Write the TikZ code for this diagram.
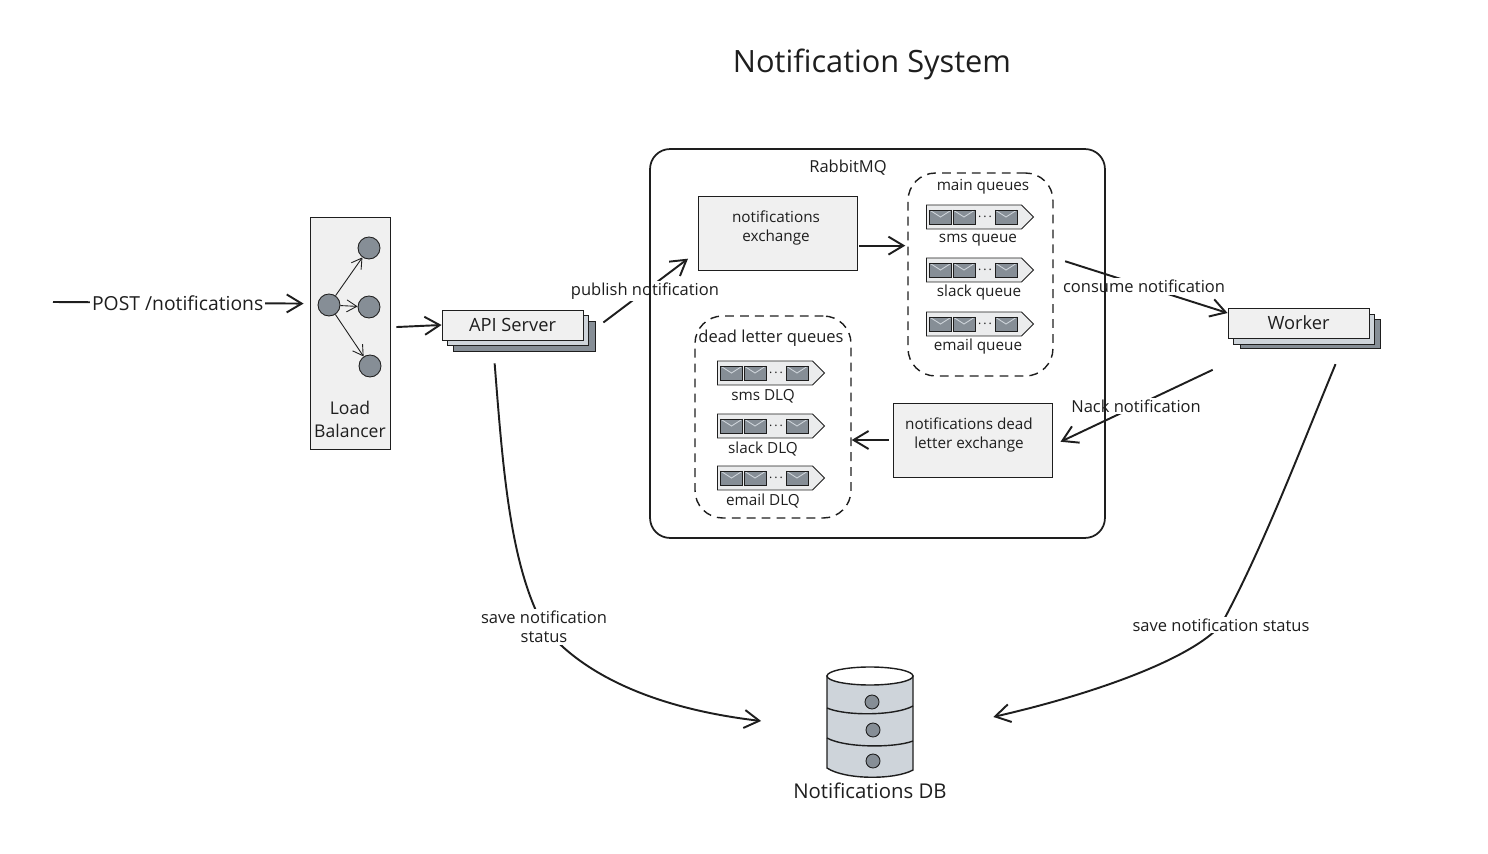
\documentclass[tikz,border=0pt]{standalone}
\usepackage{fontspec}
\setmainfont{Open Sans}
\usetikzlibrary{arrows.meta,shapes.symbols}
\definecolor{ink}{HTML}{1E1E1E}
\definecolor{pale}{HTML}{F0F0F0}
\definecolor{mist}{HTML}{CED4DA}
\definecolor{slate}{HTML}{868E96}

\begin{document}
\begin{tikzpicture}[x=0.02cm,y=-0.02cm,>={Straight Barb[length=3mm,width=3.6mm]},
 lbl/.style={font=\fontsize{9.4}{11}\selectfont,text=ink,align=center,inner sep=1pt},
 small/.style={lbl,font=\fontsize{8.7}{11}\selectfont},
 big/.style={font=\fontsize{10.4}{13}\selectfont,text=ink,align=center,inner sep=1pt},
 box/.style={rectangle,draw=ink,line width=0.5pt,fill=pale,inner sep=0pt},
 dashbox/.style={rectangle,draw=ink,thick,dash pattern=on 5pt off 3.5pt,rounded corners=0.55cm,inner sep=0pt},
 dot/.style={circle,draw=ink,line width=0.5pt,fill=slate,inner sep=0pt,minimum size=0.44cm},
 conn/.style={->,draw=ink,line width=1.1pt},
 thinconn/.style={->,>={Straight Barb[length=2mm,width=2.4mm]},draw=ink,line width=0.5pt},
 queue/.style={signal,signal to=east,draw=ink,line width=0.5pt,fill=pale!85!mist,inner sep=0pt,minimum width=2.14cm,minimum height=0.48cm},
 mail/.style={rectangle,draw=ink,line width=0.4pt,fill=slate,inner sep=0pt,minimum width=0.44cm,minimum height=0.28cm,
  path picture={\draw[mist,line width=0.5pt] (path picture bounding box.north west) -- (path picture bounding box.center) -- (path picture bounding box.north east);}}]
 \useasboundingbox (0,0) rectangle (1488,854);

 \node[font=\fontsize{17.5}{20}\selectfont,text=ink] (title) at (872,64) {Notification System};

 % load balancer
 \node[box,minimum width=1.6cm,minimum height=4.64cm] (lb) at (350,333) {};
 \node[dot] (lbin) at (329,305) {};
 \node[dot] (lbtop) at (369,248) {};
 \node[dot] (lbmid) at (369,307) {};
 \node[dot] (lbbot) at (370,366) {};
 \node[big,font=\fontsize{10}{13}\selectfont] (lbtext) at (350,419) {Load\\Balancer};
 \path (lbin) edge[thinconn] (lbtop)
  edge[thinconn] (lbmid)
  edge[thinconn] (lbbot);

 % stacked servers
 \node[box,fill=slate,minimum width=2.84cm,minimum height=0.6cm] (apiback) at (524,336) {};
 \node[box,fill=mist,minimum width=2.82cm,minimum height=0.6cm] (apimid) at (518,330) {};
 \node[box,minimum width=2.82cm,minimum height=0.6cm,big] (api) at (512.5,325) {API Server};
 \node[box,fill=slate,minimum width=2.8cm,minimum height=0.58cm] (wkback) at (1310,333.5) {};
 \node[box,fill=mist,minimum width=2.82cm,minimum height=0.6cm] (wkmid) at (1304,329) {};
 \node[box,minimum width=2.82cm,minimum height=0.6cm,big] (wk) at (1298.5,323) {Worker};

 % exchanges
 \node[box,minimum width=3.18cm,minimum height=1.48cm] (exch) at (777.5,233) {};
 \node[small] (exchtext) at (776,228) {notifications\\exchange};
 \node[box,minimum width=3.18cm,minimum height=1.48cm] (dlx) at (972.5,440) {};
 \node[small] (dlxtext) at (969,435) {notifications dead\\letter exchange};

 % queue groups
 \node[dashbox,minimum width=2.9cm,minimum height=4.06cm] (mainq) at (980.5,274.5) {};
 \node[small] (maintext) at (983,187) {main queues};
 \node[dashbox,minimum width=3.12cm,minimum height=4.04cm] (deadq) at (773,417) {};
 \node[lbl] (deadtext) at (771,338) {dead letter queues};
 \foreach \qname/\qx/\qy/\tx/\qtext in {sms/979.5/217/978/sms queue,slack/979.5/270/979/slack queue,email/979.5/324/978/email queue,
   smsd/770.5/373/763/sms DLQ,slackd/770.5/426/763/slack DLQ,emaild/770.5/478/763/email DLQ}{
  \node[queue] (\qname) at (\qx-5.5,\qy) {};
  \node[mail] (\qname a) at (\qx-39,\qy) {};
  \node[mail] (\qname b) at (\qx-15.5,\qy) {};
  \node[lbl,font=\fontsize{7}{8}\selectfont] (\qname dots) at (\qx+5.5,\qy) {.\,.\,.};
  \node[mail] (\qname c) at (\qx+26.5,\qy) {};
  \node[small] (\qname text) at (\tx,\qy+23) {\qtext};
 }

 % database
 \node[rectangle,inner sep=0pt,minimum width=1.72cm,minimum height=2.2cm] (db) at (870,721) {};
 \draw[ink,thick,fill=mist] (827,676) -- (827,768) .. controls (845,780) and (895,780) .. (913,770) -- (913,676) -- cycle;
 \draw[ink,thick,fill=white] (870,676) ellipse [x radius=0.86cm,y radius=0.18cm];
 \draw[ink,thick] (827,708) .. controls (845,716) and (895,716) .. (913,706);
 \draw[ink,thick] (827,738) .. controls (845,748) and (895,748) .. (913,741);
 \node[dot,minimum size=0.28cm] (dba) at (872,702) {};
 \node[dot,minimum size=0.28cm] (dbb) at (873,730) {};
 \node[dot,minimum size=0.28cm] (dbc) at (873,761) {};
 \node[big,font=\fontsize{11.6}{13}\selectfont] (dbtext) at (870,791) {Notifications DB};

 % connectors
 \coordinate (client) at (53,302);
 \path[every node/.style={lbl,fill=white}]
 (client) edge[conn,shorten >=0.12cm] node[pos=0.486,font=\fontsize{11}{13}\selectfont] (postlbl) {POST /notifications} (lb.144)
 (lb.8) edge[conn,shorten <=0.12cm] (api.west)
 (apiback.6) edge[conn,shorten <=0.2cm,shorten >=0.24cm] node[pos=0.485] (publbl) {publish notification} (exch.193)
 (exch.-9.3) edge[conn,shorten <=0.04cm,shorten >=0.04cm] (mainq.west |- exch.-9.3)
 (dlx.180) edge[conn,shorten <=0.08cm] (deadq.east |- dlx.180)
 (mainq.13.6) edge[conn,shorten <=0.24cm] node[pos=0.52] (conlbl) {consume notification} (wk.172.7)
 (wkback.196.5) edge[conn,shorten <=1cm,shorten >=0.18cm] node[pos=0.593] (nacklbl) {Nack notification} (dlx.-4.3);
 \draw[conn,shorten <=0.24cm,shorten >=1.32cm] (apiback.207) .. controls (503,470) and (510,565) .. (544,627) node[lbl,fill=white] (savelbl) {save notification\\status} .. controls (580,672) and (650,708) .. (db.190.5);
 \draw[conn,shorten <=0.34cm,shorten >=1.64cm] (wkback.-25.8) .. controls (1300,450) and (1262,550) .. (1221,625) node[lbl,fill=white] (statlbl) {save notification status} .. controls (1190,660) and (1090,695) .. (db.-18);

 % broker frame
 \node[rectangle,draw=ink,line width=1pt,rounded corners=0.4cm,inner sep=0pt,minimum width=9.1cm,minimum height=7.78cm] (rabbit) at (877.5,343.5) {};
 \node[lbl] (rabbittext) at (848,168) {RabbitMQ};
\end{tikzpicture}
\end{document}
